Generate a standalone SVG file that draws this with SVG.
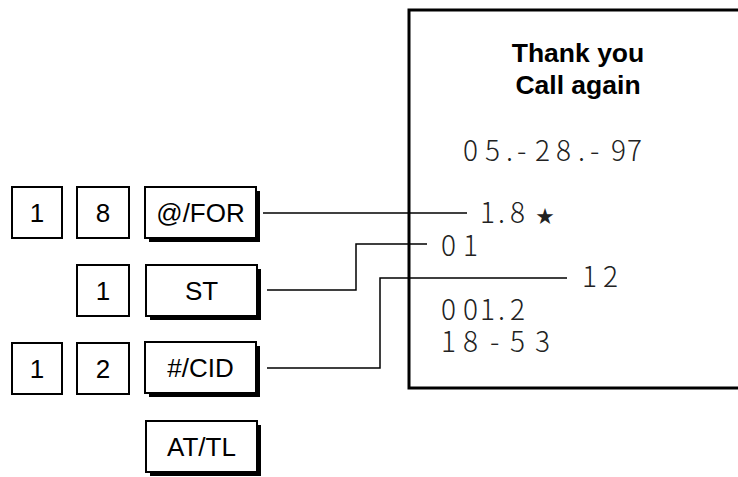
<svg xmlns="http://www.w3.org/2000/svg" width="738" height="477" viewBox="0 0 738 477">
<style>
.key{fill:#fff;stroke:#000;stroke-width:2}
.shadow{fill:#000}
.kt{font-family:"Liberation Sans",Arial,sans-serif;font-size:26px;text-anchor:middle;fill:#000}
.rt{font-family:"Noto Sans CJK JP","DejaVu Sans",sans-serif;font-weight:300;font-size:28px;fill:#222}
.title{font-family:"Liberation Sans",Arial,sans-serif;font-weight:bold;font-size:26.5px;text-anchor:middle;fill:#000}
.conn{fill:none;stroke:#000;stroke-width:1.5}
</style>
<rect width="738" height="477" fill="#fff"/>
<g id="receipt">
<rect x="409" y="10" width="360" height="378" fill="#fff" stroke="#000" stroke-width="3"/>
<text class="title" x="578" y="62">Thank you</text>
<text class="title" x="578" y="94">Call again</text>
<text class="rt" x="463 485 506 517 535 556 578 590 611 627" y="161">05.-28.-97</text>
<text class="rt" x="480 498 510 536" y="223">1.8<tspan font-size="18">★</tspan></text>
<text class="rt" x="441 463" y="256">01</text>
<text class="rt" x="582 603" y="287">12</text>
<text class="rt" x="441 463 480 498 510" y="320">001.2</text>
<text class="rt" x="441 463 490 510 535" y="352">18-53</text>
</g>
<g id="connectors">
<path class="conn" d="M263 213 H467"/>
<path class="conn" d="M267 290 H356 V244 H427"/>
<path class="conn" d="M267 368 H380 V278 H567" stroke="#333"/>
</g>
<g id="key-1a"><rect class="key" x="12" y="187" width="50" height="51"/><text class="kt" x="37" y="222">1</text></g>
<g id="key-8"><rect class="key" x="77" y="187" width="52" height="51"/><text class="kt" x="103" y="222">8</text></g>
<g id="key-for"><rect class="shadow" x="149" y="191" width="111" height="51"/><rect class="key" x="145" y="187" width="111" height="51"/><text class="kt" x="200.5" y="222">@/FOR</text></g>
<g id="key-1b"><rect class="key" x="77" y="265" width="52" height="51"/><text class="kt" x="103" y="300">1</text></g>
<g id="key-st"><rect class="shadow" x="150" y="269" width="111" height="51"/><rect class="key" x="146" y="265" width="111" height="51"/><text class="kt" x="201.5" y="300">ST</text></g>
<g id="key-1c"><rect class="key" x="12" y="343" width="50" height="51"/><text class="kt" x="37" y="378">1</text></g>
<g id="key-2"><rect class="key" x="77" y="343" width="52" height="51"/><text class="kt" x="103" y="378">2</text></g>
<g id="key-cid"><rect class="shadow" x="149" y="346" width="111" height="51"/><rect class="key" x="145" y="342" width="111" height="51"/><text class="kt" x="200.5" y="377">#/CID</text></g>
<g id="key-attl"><rect class="shadow" x="150" y="425" width="111" height="51"/><rect class="key" x="146" y="421" width="111" height="51"/><text class="kt" x="201.5" y="456">AT/TL</text></g>
</svg>
